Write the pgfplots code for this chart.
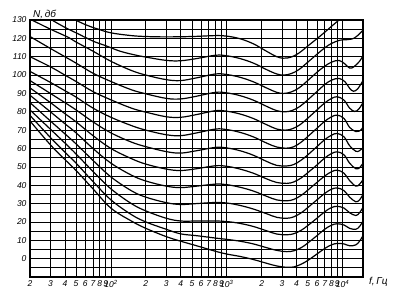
\documentclass[border=0pt]{standalone}
\usepackage{fontspec}
\setmainfont{Liberation Sans}
\usepackage{pgfplots}
\pgfplotsset{compat=1.18}
\begin{document}
\begin{tikzpicture}
\begin{axis}[
 scale only axis, width=333pt, height=257pt,
 xmode=log, xmin=20, xmax=15000, ymin=-10, ymax=130,
 xtick={20,30,40,50,60,70,80,90,100,200,300,400,500,600,700,800,900,1000,2000,3000,4000,5000,6000,7000,8000,9000,10000},
 xticklabels={2,3,4,5,6,7,8,9,10\textsuperscript{2},2,3,4,5,6,7,8,9,10\textsuperscript{3},2,3,4,5,6,7,8,9,10\textsuperscript{4}},
 ytick={0,10,...,130},
 minor ytick={-5,5,...,125},
 grid=both,
 grid style={black, line width=0.7pt},
 minor grid style={black, line width=0.7pt},
 major tick length=0pt, minor tick length=0pt,
 axis line style={black, line width=1.2pt},
 tick label style={font=\fontsize{8.5}{9}\selectfont\itshape},
 /pgf/number format/assume math mode=true,
 every axis plot post/.append style={black, solid, line width=1.2pt, mark=none, smooth, tension=0.6},
 clip mode=individual,
]
% 120
\addplot coordinates {(40,134) (48,130.5) (60,127.5) (75,125.3) (100,123) (150,121.5) (200,121) (300,120.8) (500,121) (800,121.5) (1000,121.2) (1300,119.8) (1700,117) (2200,113) (2700,110) (3100,109.2) (3600,109.8) (4200,112) (5000,115.8) (6000,119.8) (7000,123.3) (8000,126.5) (9400,130.2) (10500,132.5)};
% 110
\addplot coordinates {(27,133) (30,130.5) (40,126) (50,123) (70,118.5) (90,116) (120,113) (160,111) (200,109.8) (300,108) (400,107.8) (550,109) (800,110.8) (1000,110.5) (1300,109) (1700,106.5) (2200,103) (2700,100.6) (3100,100) (3600,100.8) (4200,103) (5000,107) (6000,111.3) (7000,114.8) (8000,117.2) (9500,119) (11000,119.3) (12500,120) (14000,122.5) (15000,124.5)};
% 100
\addplot coordinates {(20,130.5) (30,125) (43,120.5) (50,118) (70,113) (100,107.5) (150,102.5) (200,100) (300,97.5) (400,97) (550,98.5) (800,100.6) (1000,100.3) (1300,98.8) (1700,96.3) (2200,93) (2700,90.6) (3100,90) (3600,90.8) (4200,93) (5000,97) (6000,101.5) (7000,104.8) (8000,107) (9300,108) (10500,106) (11500,103.8) (12500,104.5) (14000,107.5) (15000,110.5)};
% 90
\addplot coordinates {(20,121) (30,114.5) (40,110) (50,106.5) (70,101) (100,96.5) (150,92) (200,89.8) (300,87.3) (400,87) (550,88.5) (800,90.6) (1000,90.3) (1300,88.8) (1700,86.3) (2200,83) (2700,80.6) (3200,80) (3700,80.8) (4300,83) (5000,86.5) (6000,91) (7000,94.8) (8000,97.2) (9300,98.2) (10500,96.3) (11500,92.8) (12400,91.2) (13500,92.5) (15000,97)};
% 80
\addplot coordinates {(20,110) (30,104.5) (40,100) (50,96.5) (70,91) (100,86.5) (150,82) (200,79.8) (300,77.3) (400,77) (550,78.5) (800,80.6) (1000,80.3) (1300,78.8) (1700,76.3) (2200,73) (2700,70.6) (3200,70) (3700,70.8) (4300,73) (5000,76.5) (6000,81) (7000,84.8) (8000,87.2) (9000,88.2) (10300,86.3) (11500,82) (12700,80.2) (13800,81.5) (15000,85)};
% 70
\addplot coordinates {(20,102) (30,96) (40,91.5) (50,88) (70,82) (100,77) (150,72.5) (200,70) (300,67.5) (400,67) (550,68.5) (800,70.6) (1000,70.3) (1300,68.8) (1700,66.3) (2200,63) (2700,60.8) (3300,60.2) (3800,61) (4400,63.5) (5000,66.5) (6000,71) (7000,74.8) (8000,77.2) (9000,78.2) (10300,76.3) (11500,71.5) (13000,69.2) (14000,69.5) (15000,71.5)};
% 60
\addplot coordinates {(20,97) (30,90) (40,85) (50,81) (70,74.5) (100,68.5) (150,63.5) (200,61) (300,58.3) (400,57.5) (550,58.8) (800,60.6) (1000,60.3) (1300,58.8) (1700,56.3) (2200,53) (2700,50.8) (3300,50.5) (3800,51.3) (4400,53.7) (5000,56.5) (6000,61) (7000,64.8) (8000,67.2) (9000,68.2) (10300,66.3) (11500,61.5) (13000,58.5) (14000,58.8) (15000,60.5)};
% 50
\addplot coordinates {(20,93) (30,85) (40,79) (50,74.5) (70,67) (100,60) (150,54.5) (200,51.5) (300,48.8) (400,48) (550,49) (800,50.6) (1000,50.3) (1300,48.8) (1700,46.5) (2200,43.5) (2700,41.5) (3300,41) (3800,41.8) (4400,44) (5000,46.8) (6000,51) (7000,54.8) (8000,57.2) (9000,58.2) (10300,56.5) (11500,52) (13000,49) (14000,49.5) (15000,52)};
% 40
\addplot coordinates {(20,89) (30,80) (40,73.5) (50,68.5) (70,60) (100,52) (150,45.5) (200,42.3) (300,39.5) (400,38.7) (550,39.5) (800,40.6) (1000,40.3) (1300,38.9) (1700,36.8) (2200,34) (2700,32) (3300,31.5) (3800,32.3) (4400,34.5) (5000,37.3) (6000,41.5) (7000,45) (8000,47.3) (9000,48.2) (10300,46.5) (11500,42.5) (13000,39.5) (14000,40.5) (15000,43)};
% 30
\addplot coordinates {(20,85) (30,75) (40,68) (50,62.5) (70,53.5) (100,44.5) (150,37) (200,33.5) (300,30.5) (400,29.5) (550,30) (800,30.6) (1000,30.3) (1300,29) (1700,27) (2200,24.5) (2700,22.5) (3300,22) (3800,22.8) (4400,25) (5000,27.8) (6000,32) (7000,35.5) (8000,37.8) (9000,38.5) (10300,37) (11500,33.5) (13000,31) (14000,32) (15000,35)};
% 20
\addplot coordinates {(20,81) (30,70.5) (40,63) (50,57) (70,47.5) (100,38) (150,30) (200,26) (300,22) (400,20.5) (550,20.5) (800,20.5) (1000,20.2) (1300,19.2) (1700,17.5) (2200,15.2) (2700,13.4) (3300,13) (3800,13.6) (4400,15.5) (5000,18) (6000,22) (7000,25.5) (8000,27.8) (9000,28.5) (10300,27.5) (11500,25) (13000,23.5) (14000,25) (15000,28)};
% 10
\addplot coordinates {(20,78) (30,66) (40,58) (50,52) (70,42) (100,32) (150,24) (200,20) (300,16) (400,13.5) (550,12.5) (800,11.2) (1000,10.5) (1300,9.5) (1700,8) (2200,6) (2700,4.5) (3300,3.8) (3800,4.3) (4400,6) (5000,8.5) (6000,12.5) (7000,16) (8000,18.2) (9000,19) (10300,18.3) (11500,16.5) (13000,16) (14000,17.5) (15000,20.5)};
% 0
\addplot coordinates {(20,75) (30,62) (40,54) (50,48) (70,38) (100,27.5) (150,20.5) (200,16.5) (300,12) (400,9.5) (550,7) (800,4) (1000,2.5) (1300,1.2) (1700,-0.5) (2200,-2.5) (2700,-4) (3300,-4.7) (3800,-4.5) (4400,-3) (5000,-1) (6000,2.5) (7000,5.5) (8000,7.5) (9000,8.3) (10300,8) (11500,7) (13000,7.5) (14000,9.5) (15000,12.5)};
\node[anchor=south west, font=\fontsize{10}{11}\selectfont\itshape, inner sep=1pt] at ([xshift=2pt]rel axis cs:0,1) {N,\,дб};
\node[anchor=west, font=\fontsize{10}{11}\selectfont\itshape, inner sep=1pt] at ([xshift=5pt,yshift=-5pt]rel axis cs:1,0) {f,\,Гц};
\end{axis}
\pgfresetboundingbox
\path[use as bounding box] (-30pt,-17pt) rectangle (366pt,277pt);
\end{tikzpicture}
\end{document}
